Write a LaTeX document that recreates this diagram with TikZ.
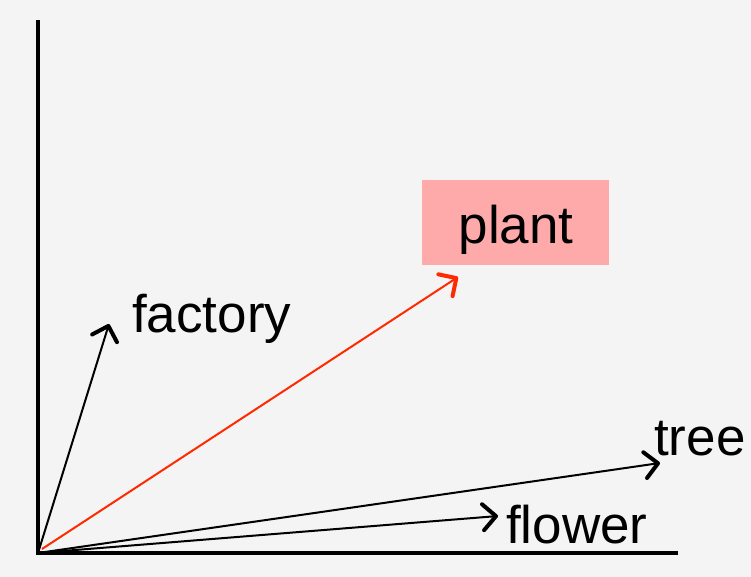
\documentclass[tikz,border=0pt]{standalone}
\usepackage{fontspec}
\setmainfont{Liberation Sans}
\usetikzlibrary{arrows.meta}
\definecolor{bg}{HTML}{F4F4F4}
\definecolor{boxfill}{HTML}{FFAAAA}
\definecolor{vred}{HTML}{FF2A00}
\begin{document}
\begin{tikzpicture}[x=1pt,y=-1pt,
  axis/.style={line width=3.2pt},
  vec/.style={line width=2pt,-{Straight Barb[length=13pt,width=26pt,line width=4pt 0 1,round]}},
  word/.style={font=\fontsize{53}{60}\selectfont,inner sep=0pt,anchor=base west}]
\fill[bg] (0,0) rectangle (751,577);
\useasboundingbox (0,0) rectangle (751,577);
\coordinate (O) at (38,553);
\coordinate (ytop) at (38,20);
\coordinate (xend) at (678,553);
\coordinate (Ored) at (42,549);
\coordinate (tf) at (109,324);
\coordinate (tp) at (458,277);
\coordinate (tt) at (660,463);
\coordinate (tw) at (498,516);
\node[fill=boxfill,minimum width=187pt,minimum height=85pt,inner sep=0pt] (plant) at (515.5,222.5) {};
\node[font=\fontsize{53}{60}\selectfont,inner sep=0pt,anchor=base] (plantlbl) at (516,243) {plant};
\node[word] (factory) at (132,332) {factory};
\node[word] (tree) at (654,455) {tree};
\node[word] (flower) at (506,543) {flower};
\draw[axis] (ytop) -- (O) -- (xend);
\draw[vec] (O) -- (tf);
\draw[vec,vred] (Ored) -- (tp);
\draw[vec] (O) -- (tt);
\draw[vec] (O) -- (tw);
\end{tikzpicture}
\end{document}
